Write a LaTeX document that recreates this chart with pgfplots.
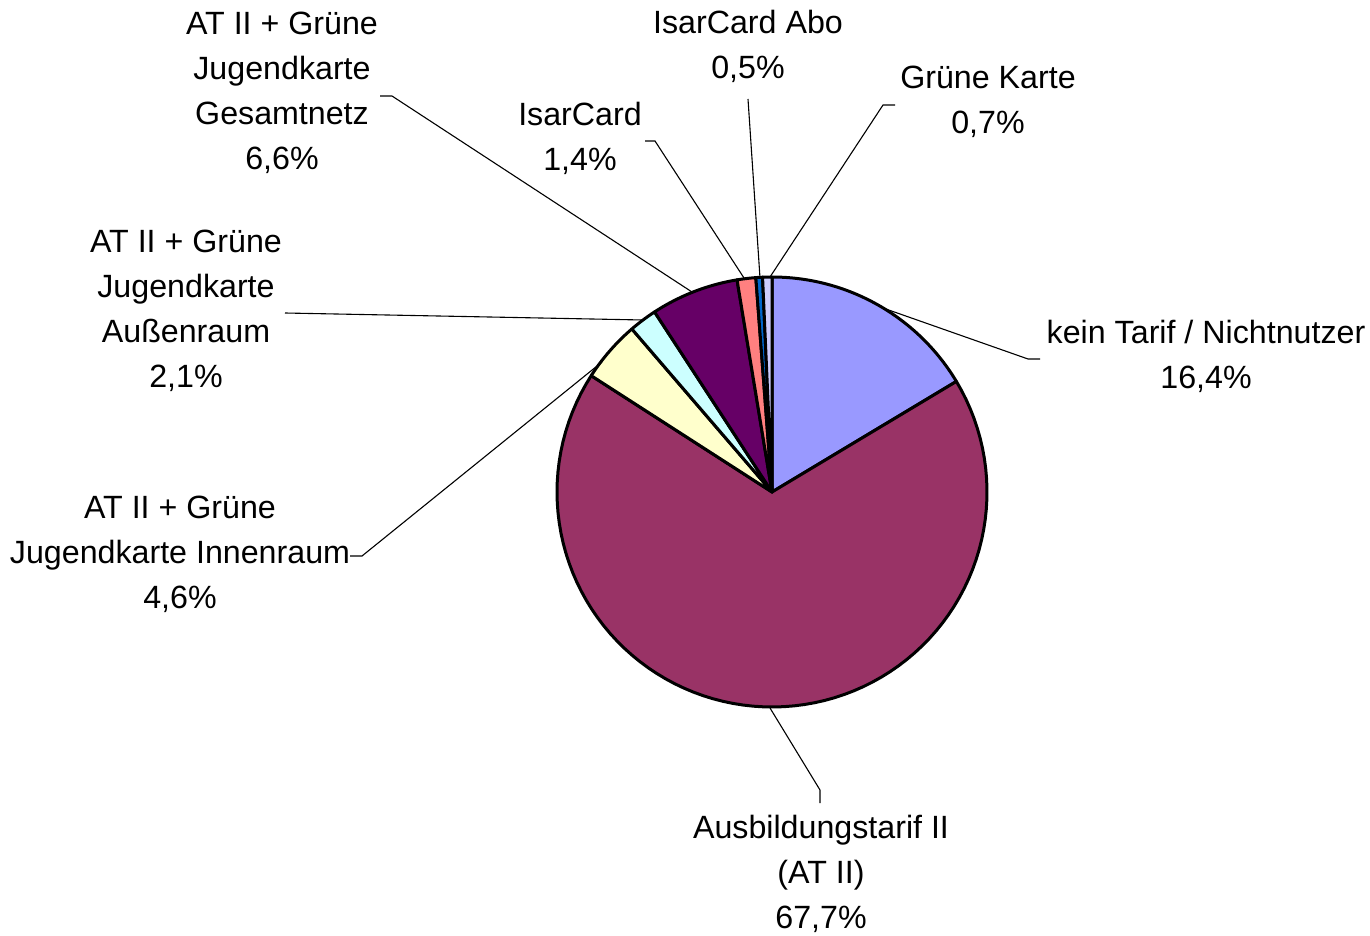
\documentclass[border=0pt]{standalone}
\usepackage{pgfplots}
\pgfplotsset{compat=1.18}
\usepackage{fontspec}
\setmainfont{Liberation Sans}
\definecolor{cA}{HTML}{9999FF}
\definecolor{cB}{HTML}{993366}
\definecolor{cC}{HTML}{FFFFCC}
\definecolor{cD}{HTML}{CCFFFF}
\definecolor{cE}{HTML}{660066}
\definecolor{cF}{HTML}{FF8080}
\definecolor{cG}{HTML}{0066CC}
\definecolor{cH}{HTML}{CCCCFF}
% shares in percent
\def\vA{16.4}\def\vB{67.7}\def\vC{4.6}\def\vD{2.1}
\def\vE{6.6}\def\vF{1.4}\def\vG{0.5}\def\vH{0.7}
\pgfmathsetmacro\aA{90}
\pgfmathsetmacro\aB{\aA-3.6*\vA}
\pgfmathsetmacro\aC{\aB-3.6*\vB}
\pgfmathsetmacro\aD{\aC-3.6*\vC}
\pgfmathsetmacro\aE{\aD-3.6*\vD}
\pgfmathsetmacro\aF{\aE-3.6*\vE}
\pgfmathsetmacro\aG{\aF-3.6*\vF}
\pgfmathsetmacro\aH{\aG-3.6*\vG}
\pgfmathsetmacro\aI{\aH-3.6*\vH}
\begin{document}
\begin{tikzpicture}
\begin{axis}[
  width=685pt, height=468pt, scale only axis,
  xmin=0, xmax=1370, ymin=0, ymax=936, y dir=reverse,
  hide axis, clip=false,
]
\pgfplotsset{slice/.style={draw=black, line width=1.5pt, line join=round, samples=90, variable=\t}}
\addplot[slice, fill=cA, domain=\aB:\aA] ({772+215*cos(\t)},{492-215*sin(\t)}) -- (axis cs:772,492) -- cycle;
\addplot[slice, fill=cB, domain=\aC:\aB] ({772+215*cos(\t)},{492-215*sin(\t)}) -- (axis cs:772,492) -- cycle;
\addplot[slice, fill=cC, domain=\aD:\aC] ({772+215*cos(\t)},{492-215*sin(\t)}) -- (axis cs:772,492) -- cycle;
\addplot[slice, fill=cD, domain=\aE:\aD] ({772+215*cos(\t)},{492-215*sin(\t)}) -- (axis cs:772,492) -- cycle;
\addplot[slice, fill=cE, domain=\aF:\aE] ({772+215*cos(\t)},{492-215*sin(\t)}) -- (axis cs:772,492) -- cycle;
\addplot[slice, fill=cF, domain=\aG:\aF] ({772+215*cos(\t)},{492-215*sin(\t)}) -- (axis cs:772,492) -- cycle;
\addplot[slice, fill=cG, domain=\aH:\aG] ({772+215*cos(\t)},{492-215*sin(\t)}) -- (axis cs:772,492) -- cycle;
\addplot[slice, fill=cH, domain=\aI:\aH] ({772+215*cos(\t)},{492-215*sin(\t)}) -- (axis cs:772,492) -- cycle;
% leader lines
\begin{scope}[draw=black, line width=0.55pt]
\draw (axis cs:1040,359) -- (axis cs:1028,359) -- (axis cs:883,308);
\draw (axis cs:820,803) -- (axis cs:820,790) -- (axis cs:770,708);
\draw (axis cs:350,556) -- (axis cs:362,556) -- (axis cs:602,362);
\draw (axis cs:285,313) -- (axis cs:643,320);
\draw (axis cs:380,96) -- (axis cs:392,96) -- (axis cs:692,292);
\draw (axis cs:645,141) -- (axis cs:655,141) -- (axis cs:744,278);
\draw (axis cs:748,99) -- (axis cs:760,278);
\draw (axis cs:895,105) -- (axis cs:883,105) -- (axis cs:770,277);
\end{scope}
% labels
\begin{scope}[every node/.style={align=center, inner sep=0pt, font=\fontsize{16.1}{22.5}\selectfont}]
\node at (axis cs:1206,356) {kein Tarif / Nichtnutzer\\16,4\%};
\node at (axis cs:821,874) {Ausbildungstarif II\\(AT II)\\67,7\%};
\node at (axis cs:180,554) {AT II + Grüne\\Jugendkarte Innenraum\\4,6\%};
\node at (axis cs:186,311) {AT II + Grüne\\Jugendkarte\\Außenraum\\2,1\%};
\node at (axis cs:282,93) {AT II + Grüne\\Jugendkarte\\Gesamtnetz\\6,6\%};
\node at (axis cs:580,138) {IsarCard\\1,4\%};
\node at (axis cs:748,46) {IsarCard Abo\\0,5\%};
\node at (axis cs:988,102) {Grüne Karte\\0,7\%};
\end{scope}
\end{axis}
\pgfresetboundingbox
\path (0,0) rectangle (685pt,468pt);
\end{tikzpicture}
\end{document}
